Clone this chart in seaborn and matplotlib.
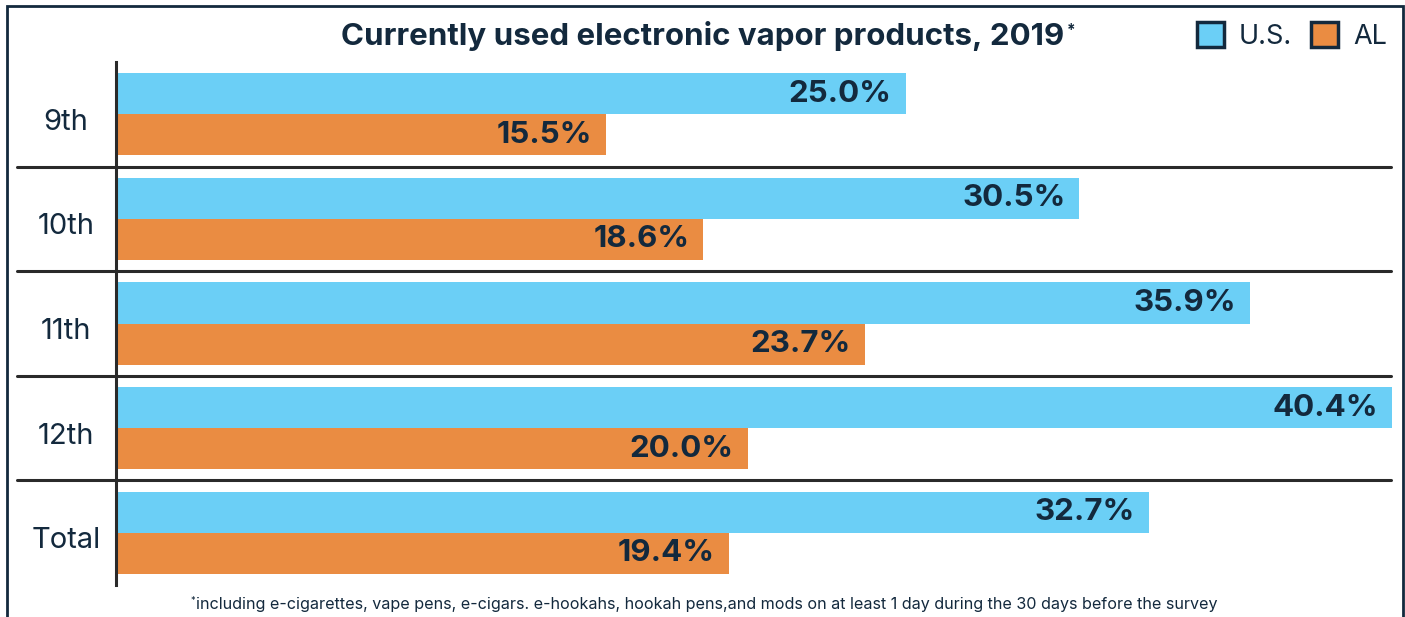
import matplotlib
matplotlib.use("Agg")
import matplotlib.pyplot as plt
from matplotlib.patches import Patch, Rectangle
from matplotlib.transforms import ScaledTranslation
import seaborn as sns
import pandas as pd

# Data
grades = ["9th", "10th", "11th", "12th", "Total"]
us_values = [25.0, 30.5, 35.9, 40.4, 32.7]
al_values = [15.5, 18.6, 23.7, 20.0, 19.4]
regions = ["U.S.", "AL"]
title = "Currently used electronic vapor products, 2019"
footnote = ("including e-cigarettes, vape pens, e-cigars. e-hookahs, hookah pens,"
            "and mods on at least 1 day during the 30 days before the survey")

BLUE = "#6BCFF6"
ORANGE = "#EA8C42"
NAVY = "#13293D"
RULE = "#2a2a2a"

df = pd.DataFrame({
    "grade": grades * 2,
    "region": [regions[0]] * len(grades) + [regions[1]] * len(grades),
    "value": us_values + al_values,
})

sns.set_theme(style="white")
plt.rcParams["font.family"] = ["Inter", "DejaVu Sans"]

W, H = 1405, 617
fig = plt.figure(figsize=(W / 100, H / 100), dpi=100)
ax = fig.add_axes([116 / W, (H - 585) / H, (1392 - 116) / W, (585 - 62) / H])

palette = {regions[0]: BLUE, regions[1]: ORANGE}
sns.barplot(data=df, y="grade", x="value", hue="region", order=grades,
            hue_order=regions, palette=palette, orient="h", width=0.785,
            gap=0, saturation=1, linewidth=0, legend=False, ax=ax, errorbar=None)

ax.set_xlim(0, max(us_values))
ax.set_ylim(len(grades) - 0.5, -0.5)
ax.set_xlabel("")
ax.set_ylabel("")
ax.set_xticks([])
for s in ["top", "right", "bottom"]:
    ax.spines[s].set_visible(False)
ax.spines["left"].set_color(RULE)
ax.spines["left"].set_linewidth(2.2)

ax.tick_params(axis="y", length=0, pad=36)
shift_down = ScaledTranslation(0, -5 / 100, fig.dpi_scale_trans)
for lbl in ax.get_yticklabels():
    lbl.set_fontsize(21)
    lbl.set_color(NAVY)
    lbl.set_horizontalalignment("center")
    lbl.set_transform(lbl.get_transform() + shift_down)

# group separators reaching out to the frame
for i in range(len(grades) - 1):
    ax.axhline(i + 0.5, xmin=(17 - 116) / (1392 - 116), xmax=(1391 - 116) / (1392 - 116),
               color=RULE, lw=2.2, clip_on=False)

# value labels at the bar ends
for container in ax.containers:
    for bar in container:
        w = bar.get_width()
        ax.annotate(f"{w:.1f}%", xy=(w, bar.get_y() + bar.get_height() / 2),
                    xytext=(-10, 0), textcoords="offset points",
                    ha="right", va="center", fontsize=22.5, fontweight="bold",
                    color=NAVY)

# title with a small raised asterisk
title_txt = fig.text(703 / W, 1 - 36 / H, title, ha="center", va="center",
                     fontsize=22.5, fontweight="bold", color=NAVY)
renderer = fig.canvas.get_renderer()
bb = title_txt.get_window_extent(renderer)
fig.text((bb.x1 + 2) / W, (bb.y1 - 2) / H, "*", ha="left", va="top",
         fontsize=11, fontweight="bold", color=NAVY)

# legend
handles = [Patch(facecolor=palette[r], edgecolor=NAVY, linewidth=2.5, label=r)
           for r in regions]
fig.legend(handles=handles, loc="center right", bbox_to_anchor=(1387 / W, 1 - 36 / H),
           ncol=2, frameon=False, fontsize=19.5, handlelength=1.0, handleheight=1.0,
           handletextpad=0.55, columnspacing=0.7, labelcolor=NAVY,
           borderpad=0, borderaxespad=0)

# footnote with a small raised asterisk
foot_txt = fig.text(707 / W, 1 - 604 / H, footnote, ha="center", va="center",
                    fontsize=11.6, color=NAVY)
fb = foot_txt.get_window_extent(renderer)
fig.text((fb.x0 - 1) / W, (fb.y1 + 1) / H, "*", ha="right", va="top",
         fontsize=6.5, color=NAVY)

# outer frame
fig.add_artist(Rectangle((7 / W, -0.05), (1403 - 7) / W, 1.05 - 6 / H,
                         transform=fig.transFigure, fill=False,
                         edgecolor=NAVY, linewidth=2))

fig.savefig("out.png", dpi=100)
